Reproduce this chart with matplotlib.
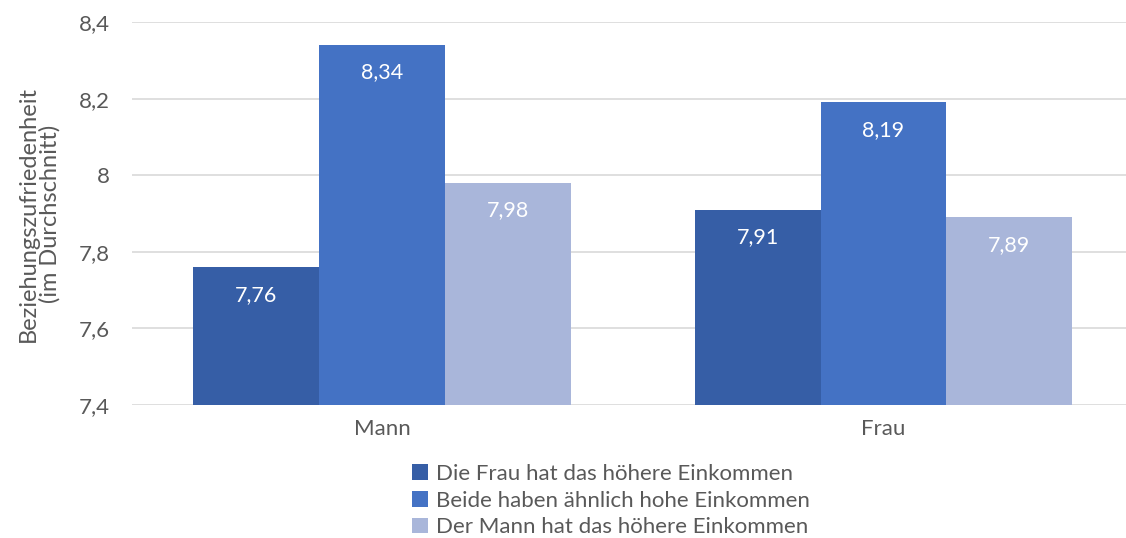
import matplotlib.pyplot as plt
import numpy as np

categories = ["Mann", "Frau"]
series_names = ["Die Frau hat das höhere Einkommen",
                "Beide haben ähnlich hohe Einkommen",
                "Der Mann hat das höhere Einkommen"]
values = [[7.76, 7.91],
          [8.34, 8.19],
          [7.98, 7.89]]
colors = ["#365EA6", "#4472C4", "#A9B6DA"]
yticks = [7.4, 7.6, 7.8, 8.0, 8.2, 8.4]
ytick_labels = ["7,4", "7,6", "7,8", "8", "8,2", "8,4"]

plt.rcParams['font.family'] = ['Lato', 'DejaVu Sans']
grey = '#595959'

fig = plt.figure(figsize=(11.26, 5.38), dpi=100)
ax = fig.add_axes([0.1172, 0.2472, 0.8828, 0.7119])

x = np.arange(len(categories))
w = 0.251
for i, (name, vals) in enumerate(zip(series_names, values)):
    pos = x + (i - 1) * w
    ax.bar(pos, np.array(vals) - 7.4, w, bottom=7.4, color=colors[i], label=name, zorder=2)
    for p, v in zip(pos, vals):
        ax.text(p, v - 0.072, ("%.2f" % v).replace(".", ","), ha='center', va='center',
                color='white', fontsize=15.5)

ax.set_xlim(-0.4985, 1.4835)
ax.set_ylim(7.4, 8.4)
ax.set_yticks(yticks)
ax.set_yticklabels(ytick_labels)
ax.set_xticks(x)
ax.set_xticklabels(categories)
ax.grid(axis='y', color='#D9D9D9', lw=1.2, zorder=0)
for s in ax.spines.values():
    s.set_visible(False)
ax.tick_params(length=0, labelsize=16, colors=grey, pad=16)
ax.tick_params(axis='x', pad=10)
ax.set_ylabel("Beziehungszufriedenheit\n(im Durchschnitt)", fontsize=17, color=grey, labelpad=13,
              linespacing=1.0)

ax.legend(loc='upper center', bbox_to_anchor=(0.482, -0.125), frameon=False, ncol=1,
          fontsize=16, labelcolor=grey, handlelength=0.7, handleheight=0.7,
          handletextpad=0.35, labelspacing=0.3, borderpad=0)

fig.savefig("out.png", dpi=100)
